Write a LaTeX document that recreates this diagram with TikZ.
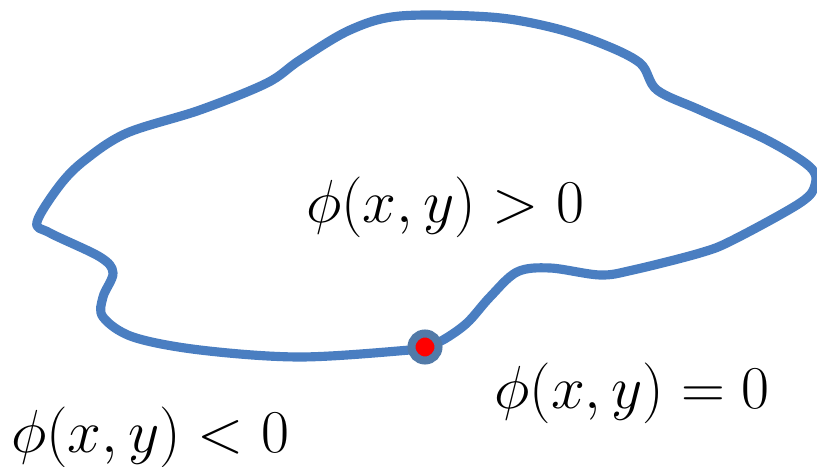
\documentclass[tikz,border=0pt]{standalone}
\usepackage{amsmath}
\usepackage{tikz}
\definecolor{curveblue}{RGB}{74,126,193}
\definecolor{ringblue}{RGB}{82,122,168}
\begin{document}
\begin{tikzpicture}[x=0.01cm,y=-0.01cm,
boundary/.style={draw=curveblue,line width=2.6pt,line join=round},
lbl/.style={font=\fontsize{16}{18}\selectfont,inner sep=0pt},
pt/.style={circle,fill=red,draw=ringblue,line width=0.08cm,minimum size=0.27cm,inner sep=0pt}]
\useasboundingbox (0,0) rectangle (817,467);
% zero level set
\draw[boundary] plot[smooth cycle,tension=0.55] coordinates {
(37,222) (60,185) (85,160) (127,133) (200,110) (267,83) (300,60) (350,30)
(400,16) (490,17) (550,27) (600,43) (640,63) (657,90) (700,110) (767,140)
(810,167) (815,185) (800,203) (733,240) (700,253) (633,270) (600,275)
(550,268) (517,272) (490,297) (467,323) (443,340) (425,347) (410,350)
(300,357) (200,350) (133,337) (103,317) (103,297) (113,273) (100,257) (50,233)};
\node[pt] (p) at (425,347) {};
\node[lbl] (inside) at (445,207) {$\phi(x,y)>0$};
\node[lbl] (zero) at (632,393) {$\phi(x,y)=0$};
\node[lbl] (outside) at (150,437) {$\phi(x,y)<0$};
\end{tikzpicture}
\end{document}
